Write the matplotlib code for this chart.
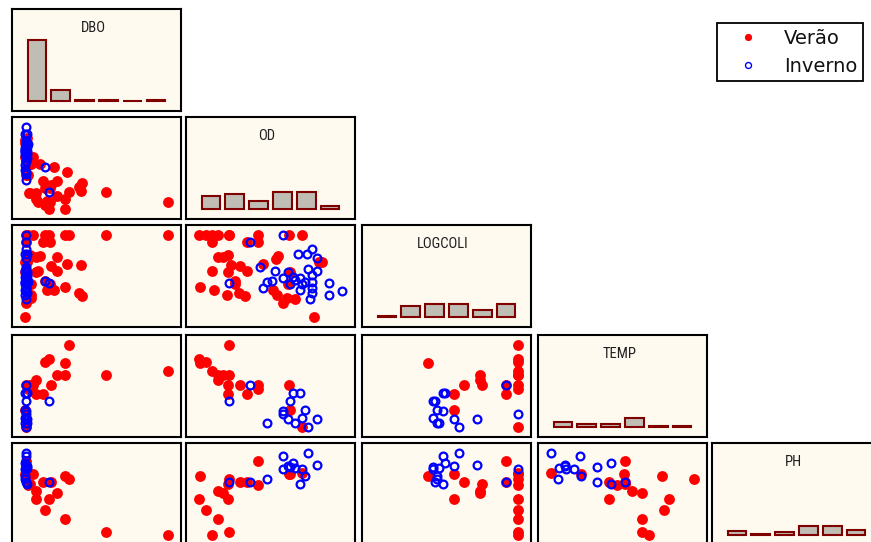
import numpy as np
import matplotlib
matplotlib.use("Agg")
import matplotlib.pyplot as plt
from matplotlib.lines import Line2D
from matplotlib import font_manager

nan = np.nan

VARIABLES = ["DBO", "OD", "LOGCOLI", "TEMP", "PH"]
GROUP_LABELS = ["Verão", "Inverno"]

# Verão (summer) samples
VERAO_DBO = [20.0, 12.0, 18.4, 10.4, 60.4, 18.4, 35.2, 15.2, 6.4, 12.8, 4.0, 2.4, 5.2, 3.2, 9.2, 6.4, 2.0, 2.4,
             12.4, 8.0, 3.2, 2.0, 2.8, 19.2, 24.8, 7.2, 15.2, 10.0, 12.4, 4.4, 14.0, 11.2, 24.0, 25.2, 4.4, 3.6,
             4.4, 2.8, 2.4, 2.0]
VERAO_OD = [2.61, 0.94, 1.00, 1.33, 1.67, 2.00, 2.61, 2.28, 2.00, 3.28, 2.56, 4.28, 6.00, 4.28, 3.67, 2.56,
            6.06, 6.72, 1.67, 5.39, 5.28, 7.72, 7.89, 4.56, 2.72, 1.67, 3.67, 3.00, 3.00, 5.94, 5.11, 1.78,
            3.17, 3.56, 5.33, 2.50, 5.89, 6.33, 5.67, 7.44]
VERAO_LOGCOLI = [6.00, 6.00, 3.48, 6.00, 6.00, 6.00, 6.00, 4.94, 4.94, 4.49, 4.99, 5.66, 6.00, 6.00, 5.66,
                 4.21, 4.21, 6.00, 5.65, 4.96, 4.81, 4.67, 4.67, 4.57, 4.52, 4.22, 4.22, 3.78, 3.63, 3.63,
                 3.33, 3.33, 3.19, 3.04, 3.09, 3.09, 2.94, 2.89, 2.69, 2.00]
VERAO_TEMP = [28.0, 25.9, 25.3, 25.5, 24.2, 23.6, 23.6, 23.6, 22.8, 22.2, 22.2, 22.2, 22.1, 21.5, 20.9, 20.9,
              18.5, 16.0, nan, nan, nan, nan, nan, nan, nan, nan, nan, nan, nan, nan, nan, nan, nan, nan,
              nan, nan, nan, nan, nan, nan]
VERAO_PH = [7.49, 7.11, 7.55, 6.89, 6.40, 6.72, 6.46, 7.21, 7.25, 7.43, 7.39, 7.84, 7.59, 7.37, 7.43, 7.11,
            7.59, 7.61, nan, nan, nan, nan, nan, nan, nan, nan, nan, nan, nan, nan, nan, nan, nan, nan,
            nan, nan, nan, nan, nan, nan]

# Inverno (winter) samples
INVERNO_DBO = [2.4, 2.0, 2.8, 2.4, 2.0, 2.4, 2.8, 2.0, 2.4, 2.4, 12.0, 2.8, 2.0, 2.4,
               2.4, 2.0, 2.8, 2.4, 2.0, 2.4, 2.8, 3.2, 2.4, 2.0, 2.4, 2.8, 2.4, 2.0, 2.4, 2.8, 10.4]
INVERNO_OD = [7.06, 4.78, 6.33, 7.61, 6.72, 5.67, 5.94, 6.89, 5.67, 6.06, 2.61, 6.61, 6.22, 3.83,
              7.33, 6.50, 7.00, 4.39, 5.22, 7.61, 7.28, 7.33, 4.56, 6.61, 7.33, 8.28, 9.00, 8.28, 7.17, 7.33, 5.06]
INVERNO_LOGCOLI = [4.35, 3.73, 3.79, 4.85, 3.62, 6.00, 4.21, 3.73, 3.90, 3.62, 3.68, 3.90, 3.96, 5.66,
                   5.31, 5.06, 5.06, 4.42, 4.22, 4.22, 4.07, 3.73, 3.43, 3.33, 3.43, 3.68, 3.28, 3.09, 2.89,
                   3.19, 3.78]
INVERNO_TEMP = [16.0, 16.6, 16.7, 17.2, 17.3, 17.9, 17.2, 18.5, 18.4, 19.9, 19.9, 21.0, 21.0, 22.2,
                nan, nan, nan, nan, nan, nan, nan, nan, nan, nan, nan, nan, nan, nan, nan, nan, nan]
INVERNO_PH = [8.00, 7.49, 7.70, 7.76, 7.68, 7.68, 7.74, 7.55, 7.94, 7.72, 7.43, 7.39, 7.80, 7.43,
              nan, nan, nan, nan, nan, nan, nan, nan, nan, nan, nan, nan, nan, nan, nan, nan, nan]

# Frequencies of the six classes shown on the diagonal
HIST_DBO = [61, 11, 1, 1, 0, 1]
HIST_OD = [13, 15, 8, 17, 17, 3]
HIST_LOGCOLI = [1, 11, 13, 13, 7, 13]
HIST_TEMP = [5, 3, 3, 9, 1, 1]
HIST_PH = [4, 1, 3, 9, 9, 5]

verao = dict(zip(VARIABLES, [np.array(v, float) for v in
                             (VERAO_DBO, VERAO_OD, VERAO_LOGCOLI, VERAO_TEMP, VERAO_PH)]))
inverno = dict(zip(VARIABLES, [np.array(v, float) for v in
                               (INVERNO_DBO, INVERNO_OD, INVERNO_LOGCOLI, INVERNO_TEMP, INVERNO_PH)]))
hists = dict(zip(VARIABLES, (HIST_DBO, HIST_OD, HIST_LOGCOLI, HIST_TEMP, HIST_PH)))

# ---- styling ----
BG = "#fefaef"
RED = "#ff0000"
BLUE = "#0000ff"
BAR_FACE = "#c0bdb5"
BAR_EDGE = "#800000"

available = {f.name for f in font_manager.fontManager.ttflist}
narrow = [f for f in ("Liberation Sans Narrow", "Roboto Condensed", "Open Sans Condensed",
                      "Noto Sans Condensed", "DejaVu Sans Condensed") if f in available]
if narrow:
    TITLE_FONT = dict(family=[narrow[0], "DejaVu Sans"], fontsize=10.5)
else:
    TITLE_FONT = dict(family=["Liberation Sans", "DejaVu Sans"], fontsize=10.0)

W, H = 871, 542
fig = plt.figure(figsize=(W / 100, H / 100), dpi=100)
fig.patch.set_facecolor("white")

COL_LEFT = [12, 186, 362, 538, 712]
ROW_TOP = [9, 117, 225, 335, 443]
PANEL_W, PANEL_H = 169, 102


def make_panel(r, c):
    left, top = COL_LEFT[c], ROW_TOP[r]
    ax = fig.add_axes([left / W, 1 - (top + PANEL_H) / H, PANEL_W / W, PANEL_H / H])
    ax.set_facecolor(BG)
    for s in ax.spines.values():
        s.set_linewidth(1.5)
        s.set_color("black")
    ax.set_xticks([])
    ax.set_yticks([])
    return ax


def data_range(name):
    vals = np.concatenate([verao[name], inverno[name]])
    return np.nanmin(vals), np.nanmax(vals)


def axis_limits(name, margin):
    lo, hi = data_range(name)
    pad = margin * (hi - lo)
    return lo - pad, hi + pad


XMARGIN, YMARGIN = 0.09, 0.115

for r, yname in enumerate(VARIABLES):
    for c, xname in enumerate(VARIABLES):
        if c > r:
            continue
        ax = make_panel(r, c)
        ax.set_xlim(axis_limits(xname, XMARGIN))
        if r == c:
            lo, hi = data_range(xname)
            edges = np.linspace(lo, hi, len(hists[xname]) + 1)
            centers = 0.5 * (edges[:-1] + edges[1:])
            binw = edges[1] - edges[0]
            ax.bar(centers, hists[xname], width=0.78 * binw, color=BAR_FACE,
                   edgecolor=BAR_EDGE, linewidth=1.5)
            ax.set_ylim(-10, 92)
            ax.text(0.48, 1 - 19.5 / PANEL_H, xname, transform=ax.transAxes,
                    ha="center", va="center", color="#202020", **TITLE_FONT)
        else:
            ax.set_ylim(axis_limits(yname, YMARGIN))
            ax.plot(verao[xname], verao[yname], "o", color=RED, ms=7.8, mew=0,
                    linestyle="none")
            ax.plot(inverno[xname], inverno[yname], "o", mfc="none", mec=BLUE,
                    ms=5.6, mew=1.6, linestyle="none")

handles = [
    Line2D([], [], linestyle="none", marker="o", color=RED, ms=5.2, mew=0),
    Line2D([], [], linestyle="none", marker="o", mfc="none", mec=BLUE, ms=4.3, mew=1.0),
]
leg = fig.legend(handles, GROUP_LABELS, loc="upper left",
                 bbox_to_anchor=(717 / W, 1 - 23 / H), borderaxespad=0,
                 frameon=True, fancybox=False, framealpha=1, edgecolor="black",
                 fontsize=14, borderpad=0.3, handlelength=2.6, handletextpad=0.55,
                 labelspacing=0.45)
leg.get_frame().set_linewidth(1.3)
for t in leg.get_texts():
    t.set_color("#111111")

fig.savefig("out.png", dpi=100)
